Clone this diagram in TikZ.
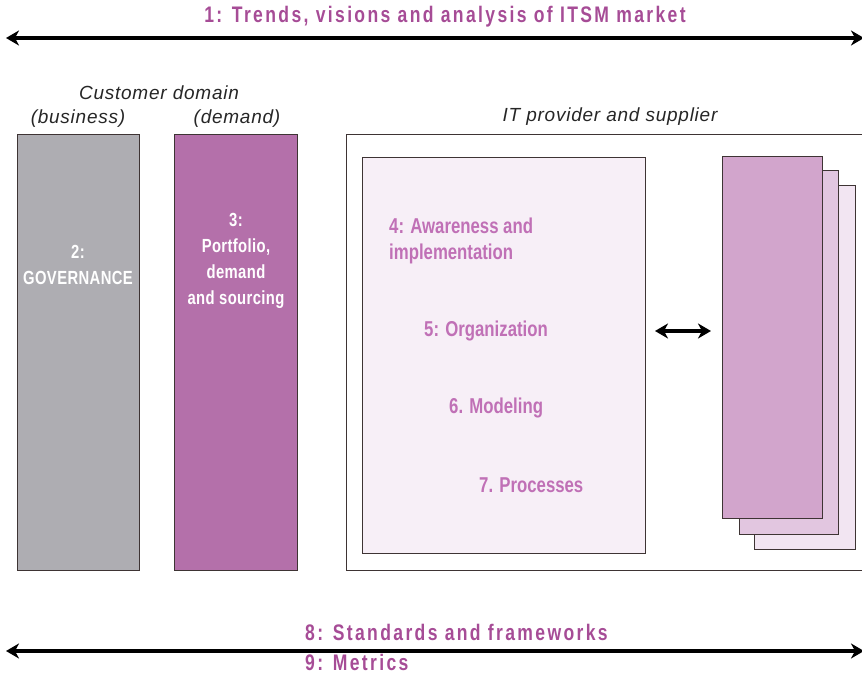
\documentclass[tikz,border=0pt]{standalone}
\usepackage{fontspec}
\setmainfont{Liberation Sans}[FakeStretch=0.78]
\newfontfamily\plainsans{Liberation Sans}
\usetikzlibrary{arrows.meta}

\definecolor{headmag}{RGB}{166,76,150}
\definecolor{itemmag}{RGB}{192,112,182}
\definecolor{govgray}{RGB}{174,173,178}
\definecolor{portpurple}{RGB}{180,112,170}
\definecolor{innerpink}{RGB}{247,239,247}
\definecolor{sheetA}{RGB}{210,165,204}
\definecolor{sheetB}{RGB}{226,198,224}
\definecolor{sheetC}{RGB}{242,229,242}
\definecolor{edgegray}{RGB}{62,52,52}

\tikzset{
  bigarrow/.style={line width=3.2pt, {Stealth[length=13pt,width=15pt,inset=4pt]}-{Stealth[length=13pt,width=15pt,inset=4pt]}},
  headtxt/.style={font=\fontsize{22.5}{24}\selectfont\bfseries\addfontfeatures{LetterSpace=10.5}, text=headmag, inner sep=0pt},
  domaintxt/.style={font=\plainsans\fontsize{19}{22}\selectfont\itshape\addfontfeatures{LetterSpace=4}, text=black!85, inner sep=0pt},
  boxtxt/.style={font=\fontsize{19}{26}\selectfont\bfseries\addfontfeatures{LetterSpace=2}, text=white, align=center, inner sep=0pt},
  itemtxt/.style={font=\fontsize{21.5}{26}\selectfont\bfseries, text=itemmag, align=left, inner sep=0pt, anchor=west},
  boxedge/.style={draw=edgegray, line width=0.9pt}
}

\begin{document}
\begin{tikzpicture}[x=1pt, y=-1pt]
  \useasboundingbox (0,0) rectangle (862,676);

  % top arrow
  \coordinate (topL) at (6,38);
  \coordinate (topR) at (864,38);
  \draw[bigarrow] (topL) -- (topR);
  \node[headtxt] (trends) at (445,17) {1: Trends, visions and analysis of ITSM market};

  % customer domain
  \node[domaintxt] (custdom) at (159,93) {Customer domain};
  \node[domaintxt] (business) at (78,119) {(business)};
  \node[domaintxt] (demand) at (237,119) {(demand)};
  \node[domaintxt] (provider) at (610,117) {IT provider and supplier};

  \filldraw[boxedge, fill=govgray] (17,134) rectangle (139,570);
  \filldraw[boxedge, fill=portpurple] (174,134) rectangle (297,570);
  \node[boxtxt] (gov) at (78,265) {2:\\GOVERNANCE};
  \node[boxtxt] (port) at (236,261) {3:\\Portfolio,\\demand\\and sourcing};

  % provider side
  \filldraw[boxedge, fill=white] (346,134) rectangle (875,570);
  \filldraw[boxedge, fill=innerpink] (362,157) rectangle (645,553);
  \node[itemtxt] (aware) at (389,241) {4: Awareness and\\implementation};
  \node[itemtxt] (orga) at (424,331) {5: Organization};
  \node[itemtxt] (model) at (449,408) {6. Modeling};
  \node[itemtxt] (proc) at (479,485) {7. Processes};

  % stacked sheets
  \filldraw[boxedge, fill=sheetC] (754,185) rectangle (855,549);
  \filldraw[boxedge, fill=sheetB] (739,170) rectangle (838,534);
  \filldraw[boxedge, fill=sheetA] (722,156) rectangle (822,518);

  \coordinate (linkL) at (655,331);
  \coordinate (linkR) at (711,331);
  \draw[bigarrow] (linkL) -- (linkR);

  % bottom arrow
  \coordinate (botL) at (6,651);
  \coordinate (botR) at (864,651);
  \draw[bigarrow] (botL) -- (botR);
  \node[headtxt, anchor=west] (stand) at (305,632) {8: Standards and frameworks};
  \node[headtxt, anchor=west] (metr) at (305,662) {9: Metrics};
\end{tikzpicture}
\end{document}
